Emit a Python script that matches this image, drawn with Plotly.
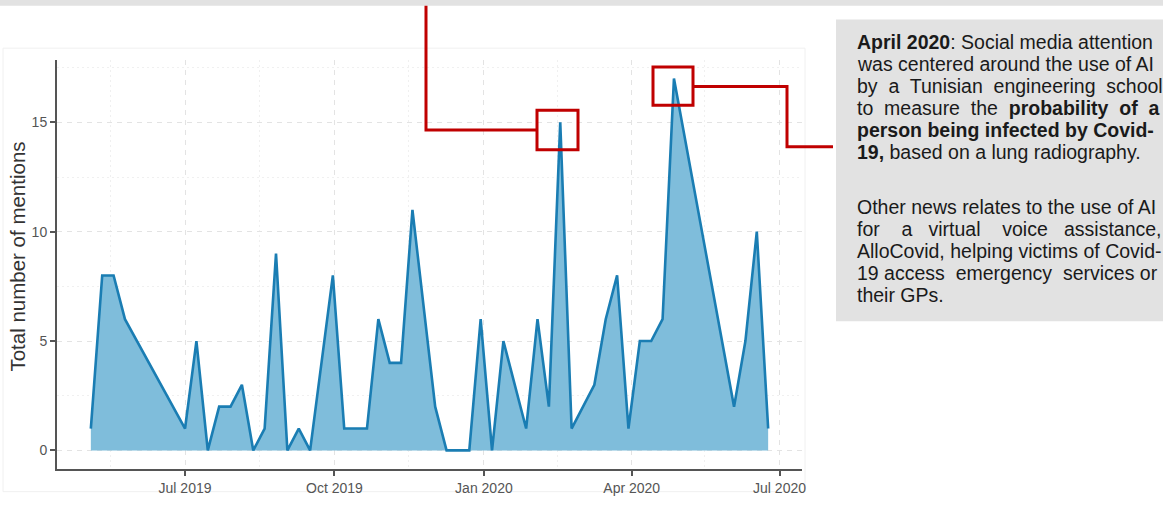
import plotly.graph_objects as go

# ---------------- data ----------------
dates = [
    "2019-05-04", "2019-05-11", "2019-05-18", "2019-05-25",
    "2019-07-01", "2019-07-08", "2019-07-15", "2019-07-22", "2019-07-29",
    "2019-08-05", "2019-08-12", "2019-08-19", "2019-08-26",
    "2019-09-02", "2019-09-09", "2019-09-16", "2019-09-30",
    "2019-10-07", "2019-10-14", "2019-10-21", "2019-10-28",
    "2019-11-04", "2019-11-11", "2019-11-18",
    "2019-12-02", "2019-12-09", "2019-12-16", "2019-12-23", "2019-12-30",
    "2020-01-06", "2020-01-13", "2020-01-27",
    "2020-02-03", "2020-02-10", "2020-02-17", "2020-02-24",
    "2020-03-09", "2020-03-16", "2020-03-23", "2020-03-30",
    "2020-04-06", "2020-04-13", "2020-04-20", "2020-04-27",
    "2020-06-03", "2020-06-10", "2020-06-17", "2020-06-24",
]
mentions = [
    1, 8, 8, 6,
    1, 5, 0, 2, 2,
    3, 0, 1, 9,
    0, 1, 0, 8,
    1, 1, 1, 6,
    4, 4, 11,
    2, 0, 0, 0, 6,
    0, 5, 1,
    6, 2, 15, 1,
    3, 6, 8, 1,
    5, 5, 6, 17,
    2, 5, 10, 1,
]

x_tick_vals = ["2019-07-01", "2019-10-01", "2020-01-01", "2020-04-01", "2020-07-01"]
x_tick_text = ["Jul 2019", "Oct 2019", "Jan 2020", "Apr 2020", "Jul 2020"]
x_minor_vals = ["2019-05-16", "2019-08-16", "2019-11-15 12:00", "2020-02-15", "2020-05-16"]
y_tick_vals = [0, 5, 10, 15]
y_minor_vals = [2.5, 7.5, 12.5, 17.5]
x_range = ["2019-04-13 04:00", "2020-07-14 20:00"]
y_range = [-0.85, 17.85]

y_title = "Total number of mentions"

NB = "\u00a0"
box_lines_1 = [
    "<b>April 2020</b>: Social media attention",
    "was centered around the use of AI",
    "by" + NB + " a" + NB + " Tunisian" + NB + " engineering" + NB + " school",
    "to" + NB + " measure" + NB + " the" + NB + " <b>probability" + NB + " of" + NB + " a</b>",
    "<b>person being infected by Covid-</b>",
    "<b>19,</b> based on a lung radiography.",
]
box_lines_2 = [
    "Other news relates to the use of AI",
    "for" + NB * 3 + " a" + NB * 2 + " virtual" + NB * 3 + " voice" + NB * 2 + " assistance,",
    "AlloCovid, helping victims of Covid-",
    "19 access" + NB + " emergency" + NB + " services or",
    "their GPs.",
]

# ---------------- layout helpers (pixel -> paper) ----------------
W, H = 1163, 508
PL, PR, PT, PB = 57, 802, 60, 475


def px(x):
    return (x - PL) / (PR - PL)


def py(y):
    return (PB - y) / (PB - PT)


LINE_C = "#1a7db3"
FILL_C = "#7fbddb"
RED = "#c00000"
GREY_BOX = "#e2e2e2"
AX_C = "#555555"
FONT = "Liberation Sans, Arial, sans-serif"

fig = go.Figure()
fig.add_trace(go.Scatter(
    x=dates, y=mentions, mode="lines", fill="tozeroy",
    line=dict(color=LINE_C, width=2.6), fillcolor=FILL_C,
    hoverinfo="skip", showlegend=False,
))

grid_major = dict(showgrid=True, gridcolor="#e3e3e3", gridwidth=1, griddash="5px,5px")
grid_minor = dict(showgrid=True, gridcolor="#f0f0f0", gridwidth=1, griddash="2px,3px")

fig.update_xaxes(
    type="date", range=x_range,
    tickmode="array", tickvals=x_tick_vals, ticktext=x_tick_text,
    minor=dict(tickmode="array", tickvals=x_minor_vals, **grid_minor),
    showline=True, linecolor=AX_C, linewidth=2,
    ticks="outside", ticklen=5, tickwidth=1.5, tickcolor=AX_C,
    tickfont=dict(size=14, color="#555555", family=FONT),
    zeroline=False, **grid_major,
)
fig.update_yaxes(
    range=y_range,
    tickmode="array", tickvals=y_tick_vals,
    minor=dict(tickmode="array", tickvals=y_minor_vals, **grid_minor),
    showline=True, linecolor=AX_C, linewidth=2,
    ticks="outside", ticklen=5, tickwidth=1.5, tickcolor=AX_C,
    tickfont=dict(size=14, color="#555555", family=FONT),
    zeroline=False, **grid_major,
)

shapes = []
# faint image border
shapes.append(dict(type="rect", xref="paper", yref="paper",
                   x0=px(3), x1=px(805), y0=py(498), y1=py(48),
                   line=dict(color="#f0f0f0", width=1), fillcolor="rgba(0,0,0,0)", layer="below"))
# top grey band
shapes.append(dict(type="rect", xref="paper", yref="paper",
                   x0=px(-10), x1=px(W + 10), y0=py(5), y1=py(-10),
                   line=dict(width=0), fillcolor=GREY_BOX, layer="below"))
# grey text box
shapes.append(dict(type="rect", xref="paper", yref="paper",
                   x0=px(836), x1=px(W + 20), y0=py(325), y1=py(19),
                   line=dict(width=0), fillcolor=GREY_BOX, layer="below"))
# red highlight rectangles
for (x0, x1, y0, y1) in [(537, 578, 111, 151), (653, 693, 67, 106)]:
    shapes.append(dict(type="rect", xref="paper", yref="paper",
                       x0=px(x0), x1=px(x1), y0=py(y1), y1=py(y0),
                       line=dict(color=RED, width=3), fillcolor="rgba(0,0,0,0)"))


def path(points):
    s = "M {:.5f},{:.5f}".format(px(points[0][0]), py(points[0][1]))
    for (x, y) in points[1:]:
        s += " L {:.5f},{:.5f}".format(px(x), py(y))
    return s


# red connectors
shapes.append(dict(type="path", xref="paper", yref="paper",
                   path=path([(426, 5), (426, 131), (537, 131)]),
                   line=dict(color=RED, width=3)))
shapes.append(dict(type="path", xref="paper", yref="paper",
                   path=path([(693, 87), (787, 87), (787, 148), (833, 148)]),
                   line=dict(color=RED, width=3)))

annotations = []
annotations.append(dict(
    text=y_title, textangle=-90, xref="paper", yref="paper",
    x=px(17.5), y=py(260), xanchor="center", yanchor="middle", showarrow=False,
    font=dict(size=20.5, color="#333333", family=FONT),
))
y0_1, y0_2, step = 42.0, 209.5, 22.3
for i, t in enumerate(box_lines_1):
    annotations.append(dict(text=t, xref="paper", yref="paper", x=px(855), y=py(y0_1 + i * step),
                            xanchor="left", yanchor="middle", showarrow=False, align="left",
                            font=dict(size=19.5, color="#1a1a1a", family=FONT)))
for i, t in enumerate(box_lines_2):
    annotations.append(dict(text=t, xref="paper", yref="paper", x=px(855), y=py(y0_2 + i * step),
                            xanchor="left", yanchor="middle", showarrow=False, align="left",
                            font=dict(size=19.5, color="#1a1a1a", family=FONT)))

fig.update_layout(
    width=W, height=H,
    margin=dict(l=PL, r=W - PR, t=PT, b=H - PB, pad=0),
    paper_bgcolor="white", plot_bgcolor="white",
    font=dict(family=FONT),
    shapes=shapes, annotations=annotations,
    showlegend=False,
)

fig.write_html("out.html", config={"displayModeBar": False},
               post_script="document.body.style.margin='0';document.body.style.overflow='hidden';")
